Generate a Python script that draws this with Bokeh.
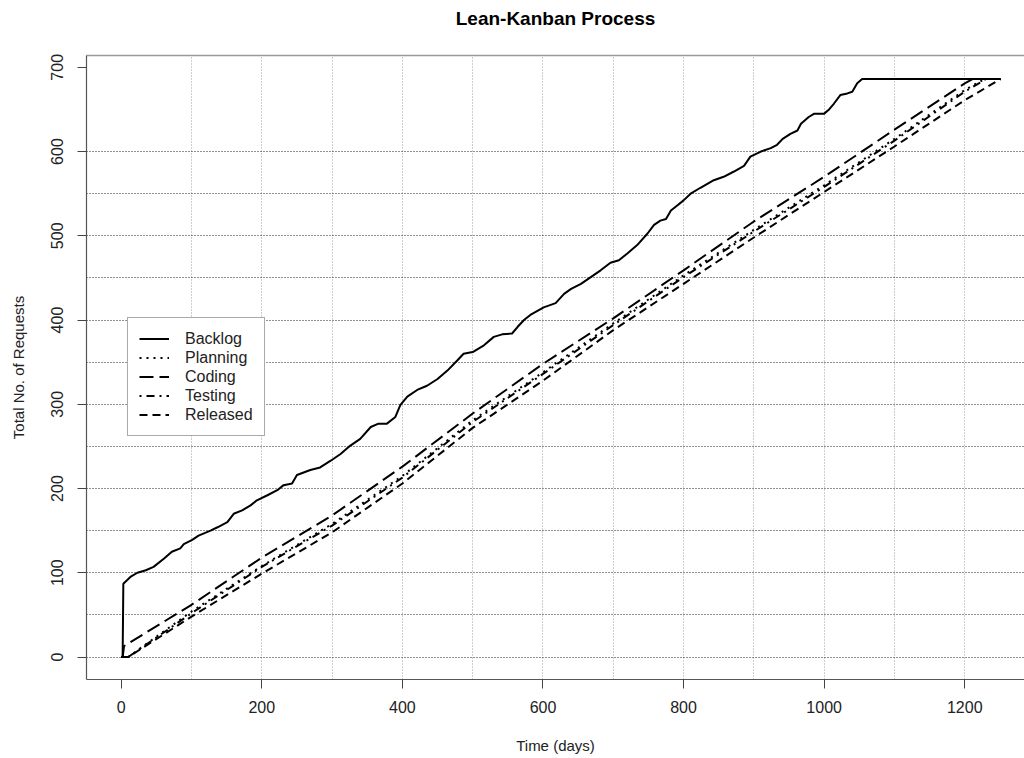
from bokeh.plotting import figure
from bokeh.models import Range1d, FixedTicker, Legend, LegendItem, LinearAxis
from bokeh.embed import file_html
from bokeh.resources import INLINE

FONT = "Liberation Sans"

title_text = "Lean-Kanban Process"
x_label = "Time (days)"
y_label = "Total No. of Requests"

x_ticks = [0, 200, 400, 600, 800, 1000, 1200]
y_ticks = [0, 100, 200, 300, 400, 500, 600, 700]
x_grid = [100, 200, 300, 400, 500, 600, 700, 800, 900, 1000, 1100, 1200]
y_grid = [0, 50, 100, 150, 200, 250, 300, 350, 400, 450, 500, 550, 600]

backlog_day = [0, 2, 3, 13, 23, 35, 46, 61, 72, 84, 89, 101, 110, 127, 137, 151, 160, 172, 184,
               193, 208, 222, 231, 243, 250, 269, 283, 298, 312, 326, 340, 355, 366, 378, 390,
               397, 407, 421, 435, 450, 464, 478, 487, 500, 516, 530, 542, 556, 564, 573, 582,
               601, 618, 630, 640, 654, 668, 682, 696, 708, 720, 734, 749, 758, 767, 775, 782,
               791, 800, 810, 824, 843, 857, 871, 886, 895, 910, 924, 933, 941, 952, 962, 967,
               978, 986, 1000, 1007, 1014, 1023, 1033, 1040, 1047, 1054, 1251]
backlog_val = [0, 0, 87, 95, 100, 103, 107, 117, 125, 129, 134, 139, 144, 150, 154, 160, 170, 174, 180,
               186, 192, 198, 204, 206, 216, 222, 225, 233, 241, 251, 259, 273, 277, 277, 285,
               299, 309, 317, 322, 330, 340, 352, 360, 362, 370, 380, 383, 384, 392, 400, 406,
               415, 420, 431, 437, 443, 451, 459, 468, 471, 479, 489, 503, 513, 518, 520, 530,
               536, 542, 550, 557, 566, 570, 576, 583, 594, 600, 604, 608, 615, 621, 625, 633,
               641, 645, 645, 650, 657, 667, 669, 671, 681, 686, 686]

coding_day = [0, 2, 4, 100, 200, 300, 400, 500, 600, 700, 800, 900, 1000, 1100, 1200, 1211, 1251]
coding_val = [0, 0, 13, 62, 118, 168, 226, 289, 348, 402, 459, 517, 570, 626, 681, 686, 686]

planning_day = [0, 10, 100, 200, 300, 400, 500, 600, 700, 800, 900, 1000, 1100, 1200, 1228, 1251]
planning_val = [0, 0, 54, 108, 158, 215, 281, 338, 396, 453, 507, 560, 615, 673, 686, 686]

testing_day = [0, 10, 100, 200, 300, 400, 500, 600, 700, 800, 900, 1000, 1100, 1200, 1230, 1251]
testing_val = [0, 0, 52, 107, 156, 213, 279, 336, 394, 451, 505, 558, 613, 671, 686, 686]

released_day = [0, 10, 100, 200, 300, 400, 500, 600, 700, 800, 900, 1000, 1100, 1200, 1251]
released_val = [0, 0, 48, 99, 148, 206, 272, 328, 388, 443, 498, 552, 606, 661, 686]

p = figure(width=1024, height=758, output_backend="svg", toolbar_location=None,
           x_range=Range1d(-49.4, 1285), y_range=Range1d(-26.7, 714),
           min_border_left=86, min_border_right=0, min_border_top=55, min_border_bottom=79,
           background_fill_color="white", border_fill_color="white")

p.outline_line_color = None

xa = p.below[0]
ya = p.left[0]

# top border of the box, carrying the chart title as its label
top_axis = LinearAxis(ticker=FixedTicker(ticks=[]), axis_line_color="#999999", axis_line_width=1.5,
                      major_tick_out=0, major_tick_in=0, minor_tick_out=0, minor_tick_in=0,
                      major_label_text_font_size="0px", major_label_standoff=0,
                      axis_label=title_text, axis_label_standoff=27,
                      axis_label_text_font=FONT, axis_label_text_font_size="19px",
                      axis_label_text_font_style="bold", axis_label_text_color="black")
p.add_layout(top_axis, "above")

for ax, ticks in ((xa, x_ticks), (ya, y_ticks)):
    ax.ticker = FixedTicker(ticks=ticks)
    ax.axis_line_color = "#555555"
    ax.axis_line_width = 1.2
    ax.major_tick_line_color = "#444444"
    ax.major_tick_out = 9
    ax.major_tick_in = 0
    ax.minor_tick_out = 0
    ax.minor_tick_in = 0
    ax.major_label_text_font = FONT
    ax.major_label_text_font_size = "16px"
    ax.major_label_text_color = "#222222"
    ax.axis_label_text_font = FONT
    ax.axis_label_text_font_size = "15px"
    ax.axis_label_text_font_style = "normal"
    ax.axis_label_text_color = "#222222"

xa.axis_label = x_label
ya.axis_label = y_label
xa.major_label_standoff = 12
xa.axis_label_standoff = 21
ya.major_label_standoff = 14
ya.axis_label_standoff = 22
ya.major_label_orientation = "vertical"

p.xgrid.ticker = FixedTicker(ticks=x_grid)
p.xgrid.grid_line_color = "#9a9a9a"
p.xgrid.grid_line_dash = "1 2"
p.xgrid.grid_line_width = 1
p.ygrid.ticker = FixedTicker(ticks=y_grid)
p.ygrid.grid_line_color = "#222222"
p.ygrid.grid_line_dash = "1 2"
p.ygrid.grid_line_width = 1

lw = 2
r_backlog = p.line(backlog_day, backlog_val, line_color="black", line_width=lw)
r_planning = p.line(planning_day, planning_val, line_color="black", line_width=lw, line_dash="2 5")
r_coding = p.line(coding_day, coding_val, line_color="black", line_width=lw, line_dash="14 6")
r_testing = p.line(testing_day, testing_val, line_color="black", line_width=lw, line_dash="2 5 8 5")
r_released = p.line(released_day, released_val, line_color="black", line_width=lw, line_dash="8 5")

legend = Legend(items=[
    LegendItem(label="Backlog", renderers=[r_backlog]),
    LegendItem(label="Planning", renderers=[r_planning]),
    LegendItem(label="Coding", renderers=[r_coding]),
    LegendItem(label="Testing", renderers=[r_testing]),
    LegendItem(label="Released", renderers=[r_released]),
], location=(41, 243))
legend.label_text_font = FONT
legend.label_text_font_size = "16px"
legend.label_text_color = "#222222"
legend.glyph_width = 30
legend.glyph_height = 19
legend.label_height = 19
legend.label_standoff = 16
legend.spacing = 0
legend.padding = 11
legend.margin = 0
legend.border_line_color = "#555555"
legend.border_line_width = 1
legend.background_fill_color = "white"
legend.background_fill_alpha = 1
p.add_layout(legend)

open("out.html", "w").write(file_html(p, INLINE))
